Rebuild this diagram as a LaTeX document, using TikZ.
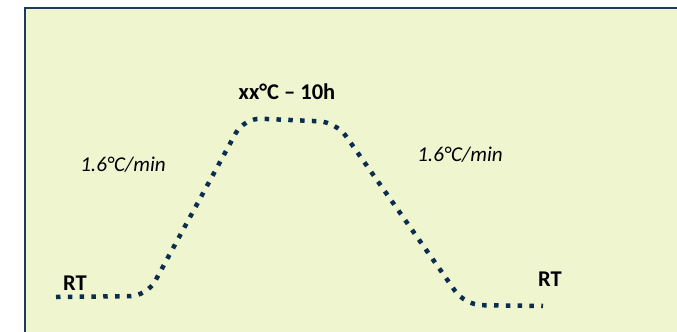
\documentclass[tikz,border=0pt]{standalone}
\usepackage{fontspec}
\setmainfont{Carlito}
\usepackage{xcolor}
\usetikzlibrary{positioning}
\definecolor{fundo}{RGB}{239, 245, 207}
\definecolor{moldura}{RGB}{31, 58, 92}
\definecolor{marinho}{RGB}{11, 45, 78}
\tikzset{
  rotulo/.style={font=\fontsize{16}{18}\selectfont\bfseries, inner sep=0pt},
  taxa/.style={font=\fontsize{15}{17}\selectfont\itshape, inner sep=0pt},
}

\begin{document}
\begin{tikzpicture}[
    x=0.025cm, y=0.025cm,
    curva/.style={
        draw=marinho,
        line width=3.2pt,
        dash pattern=on 3.2pt off 5.2pt,
        rounded corners=12pt
    }
]
\useasboundingbox (0,0) rectangle (677,331);

% Quadro
\fill[fundo, draw=moldura, line width=1.3pt] (25,323) rectangle (700,-20);

% Pontos do ciclo
\coordinate (inicio) at (56,34);
\coordinate (subida) at (147,35);
\coordinate (patamarA) at (244,213);
\coordinate (patamarB) at (336,209);
\coordinate (descida) at (465,26);
\coordinate (fim) at (543,25);

\draw[curva] (inicio) -- (subida) -- (patamarA) -- (patamarB) -- (descida) -- (fim);

% Textos
\node[rotulo] (rtA) at (75,48) {RT};
\node[rotulo] (rtB) at (550,52) {RT};
\node[rotulo] (patamar) at (287,239) {xx°C – 10h};
\node[taxa] (taxaA) at (123,166) {1.6°C/min};
\node[taxa] (taxaB) at (460,176) {1.6°C/min};

\end{tikzpicture}
\end{document}
